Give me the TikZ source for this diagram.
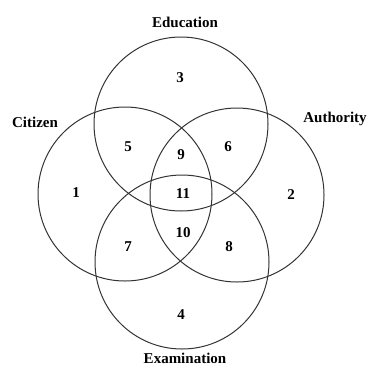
\documentclass[tikz,border=0pt]{standalone}
\usepackage{fontspec}
\setmainfont{Liberation Serif}
\usetikzlibrary{positioning}
\tikzset{
    setcircle/.style={circle, draw=black!80, line width=1pt, minimum size=174pt, inner sep=0pt},
    setlabel/.style={font=\fontsize{15}{17}\selectfont\bfseries, inner sep=1pt},
    region/.style={font=\fontsize{15}{17}\selectfont\bfseries, inner sep=1pt}
}
\begin{document}
\begin{tikzpicture}[x=1pt, y=-1pt]
    \useasboundingbox (0,0) rectangle (371,367);
    % the four sets
    \node[setcircle] (edu) at (181,124) {};
    \node[setcircle] (cit) at (125,194) {};
    \node[setcircle] (aut) at (237,195) {};
    \node[setcircle] (exa) at (182,262) {};
    % set names
    \node[setlabel] (edulab) at (185,22) {Education};
    \node[setlabel] (citlab) at (35,122) {Citizen};
    \node[setlabel] (autlab) at (335,119) {Authority};
    \node[setlabel] (exalab) at (185,358) {Examination};
    % region numbers
    \foreach \nm/\x/\y in {1/76/193, 2/291/195, 3/180/78, 4/181/315, 5/128/147, 6/228/147,
                           7/128/247, 8/229/247, 9/181/155, 10/183/233, 11/183/194} {
        \node[region] (r\nm) at (\x,\y) {\nm};
    }
\end{tikzpicture}
\end{document}
